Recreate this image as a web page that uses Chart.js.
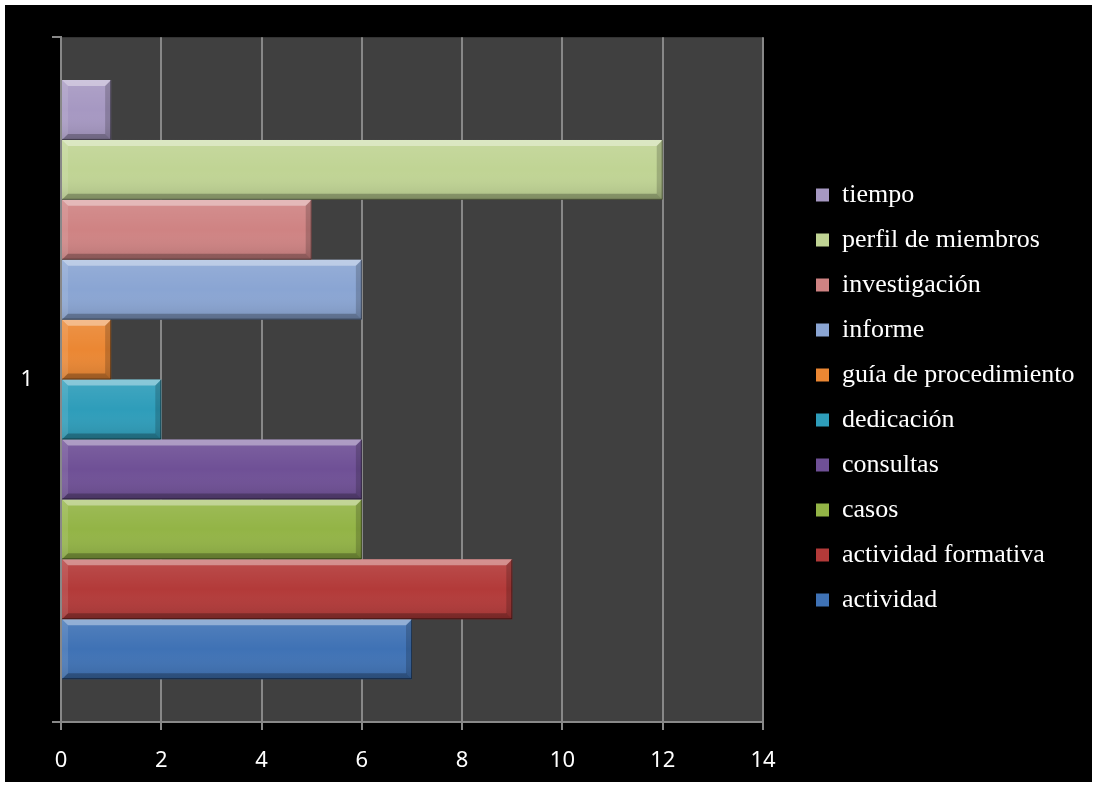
<!DOCTYPE html>
<html>
<head>
<meta charset="utf-8">
<script src="https://cdn.jsdelivr.net/npm/chart.js@4.4.0/dist/chart.umd.min.js"></script>
<style>
html, body { margin: 0; padding: 0; background: #fff; }
#wrap { position: absolute; left: 5px; top: 5px; width: 1087px; height: 777px; background: #000; }
canvas { display: block; }
</style>
</head>
<body>
<div id="wrap"><canvas id="chart" width="1087" height="777"></canvas></div>
<script>
// data (top to bottom, same as the legend)
const categories = ['1'];
const seriesNames = ['tiempo', 'perfil de miembros', 'investigación', 'informe', 'guía de procedimiento',
                     'dedicación', 'consultas', 'casos', 'actividad formativa', 'actividad'];
const seriesValues = [1, 12, 5, 6, 1, 2, 6, 6, 9, 7];
const seriesColors = ['#A698C2', '#C0D494', '#CF8383', '#8AA5D3', '#EB8733',
                      '#2E9DBA', '#6F5096', '#93B446', '#B33A39', '#3F72B5'];
const xTicks = [0, 2, 4, 6, 8, 10, 12, 14];

const gridGray = '#888888';

const datasets = seriesNames.map(function(name, i) {
    return {
        label: name,
        data: [seriesValues[i]],
        backgroundColor: seriesColors[i],
        borderWidth: 0
    };
});

// dark plot area
const plotBg = {
    id: 'plotBg',
    beforeDraw(chart) {
        const a = chart.chartArea, ctx = chart.ctx;
        ctx.save();
        ctx.fillStyle = '#404040';
        ctx.fillRect(a.left, a.top, a.right - a.left, a.bottom - a.top);
        ctx.restore();
    }
};

// excel-like bevel on each bar
const bevel = {
    id: 'bevel',
    afterDatasetsDraw(chart) {
        const ctx = chart.ctx;
        chart.data.datasets.forEach(function(ds, i) {
            chart.getDatasetMeta(i).data.forEach(function(bar) {
                const p = bar.getProps(['x', 'y', 'base', 'height'], true);
                const l = Math.min(p.base, p.x), r = Math.max(p.base, p.x);
                const t = p.y - p.height / 2, b = p.y + p.height / 2;
                const e = Math.min(6, (r - l) / 2);
                ctx.save();
                const g = ctx.createLinearGradient(0, t, 0, b);
                g.addColorStop(0, 'rgba(255,255,255,0.10)');
                g.addColorStop(0.5, 'rgba(255,255,255,0)');
                g.addColorStop(1, 'rgba(0,0,0,0.12)');
                ctx.fillStyle = g;
                ctx.fillRect(l, t, r - l, b - t);
                const poly = function(pts, fill) {
                    ctx.beginPath();
                    ctx.moveTo(pts[0][0], pts[0][1]);
                    for (let k = 1; k < pts.length; k++) ctx.lineTo(pts[k][0], pts[k][1]);
                    ctx.closePath();
                    ctx.fillStyle = fill;
                    ctx.fill();
                };
                poly([[l, t], [r, t], [r - e, t + e], [l + e, t + e]], 'rgba(255,255,255,0.38)');
                poly([[l, t], [l + e, t + e], [l + e, b - e], [l, b]], 'rgba(255,255,255,0.10)');
                poly([[r, t], [r, b], [r - e, b - e], [r - e, t + e]], 'rgba(0,0,0,0.18)');
                poly([[l, b], [l + e, b - e], [r - e, b - e], [r, b]], 'rgba(0,0,0,0.25)');
                ctx.strokeStyle = 'rgba(0,0,0,0.45)';
                ctx.lineWidth = 1;
                ctx.beginPath();
                ctx.moveTo(l, b - 0.5); ctx.lineTo(r - 0.5, b - 0.5); ctx.lineTo(r - 0.5, t);
                ctx.stroke();
                ctx.restore();
            });
        });
    }
};

// legend takes a fixed width and sits where excel had it
const LEGEND_W = 329;
const legendPlace = {
    id: 'legendPlace',
    afterInit(chart) {
        const lg = chart.legend;
        const fit = lg.fit;
        lg.fit = function() {
            fit.call(this);
            this.width = LEGEND_W;
        };
    },
    afterLayout(chart) {
        const lg = chart.legend;
        const pad = lg.options.labels.padding;
        lg.left = 811 - pad;
        lg.right = chart.width;
        lg.top = 177 - pad;
        lg.bottom = chart.height;
        lg.width = lg.right - lg.left;
        lg.height = lg.bottom - lg.top;
    }
};

const config = {
    type: 'bar',
    data: { labels: categories, datasets: datasets },
    options: {
        responsive: false,
        animation: false,
        indexAxis: 'y',
        layout: { padding: { top: 30, right: 0, bottom: 0, left: 0 } },
        datasets: { bar: { categoryPercentage: 0.875, barPercentage: 1 } },
        scales: {
            x: {
                min: xTicks[0],
                max: xTicks[xTicks.length - 1],
                ticks: { stepSize: xTicks[1] - xTicks[0], color: '#fff', padding: 18,
                         font: { family: 'Noto Sans', size: 22 } },
                grid: { color: gridGray, lineWidth: 2, tickLength: 8 },
                border: { color: gridGray, width: 2 },
                afterFit(s) { s.height = 60; }
            },
            y: {
                ticks: { color: '#fff', padding: 19, font: { family: 'Noto Sans', size: 22 } },
                grid: { drawOnChartArea: false, color: gridGray, lineWidth: 2, tickLength: 9 },
                border: { color: gridGray, width: 2 },
                afterFit(s) { s.width = 56; }
            }
        },
        plugins: {
            legend: {
                position: 'right',
                align: 'start',
                labels: {
                    color: '#fff',
                    font: { family: 'Liberation Serif', size: 26 },
                    boxWidth: 13,
                    boxHeight: 13,
                    padding: 19
                }
            },
            tooltip: { enabled: false }
        }
    },
    plugins: [plotBg, bevel, legendPlace]
};

const chart = new Chart(document.getElementById('chart'), config);
</script>
</body>
</html>
